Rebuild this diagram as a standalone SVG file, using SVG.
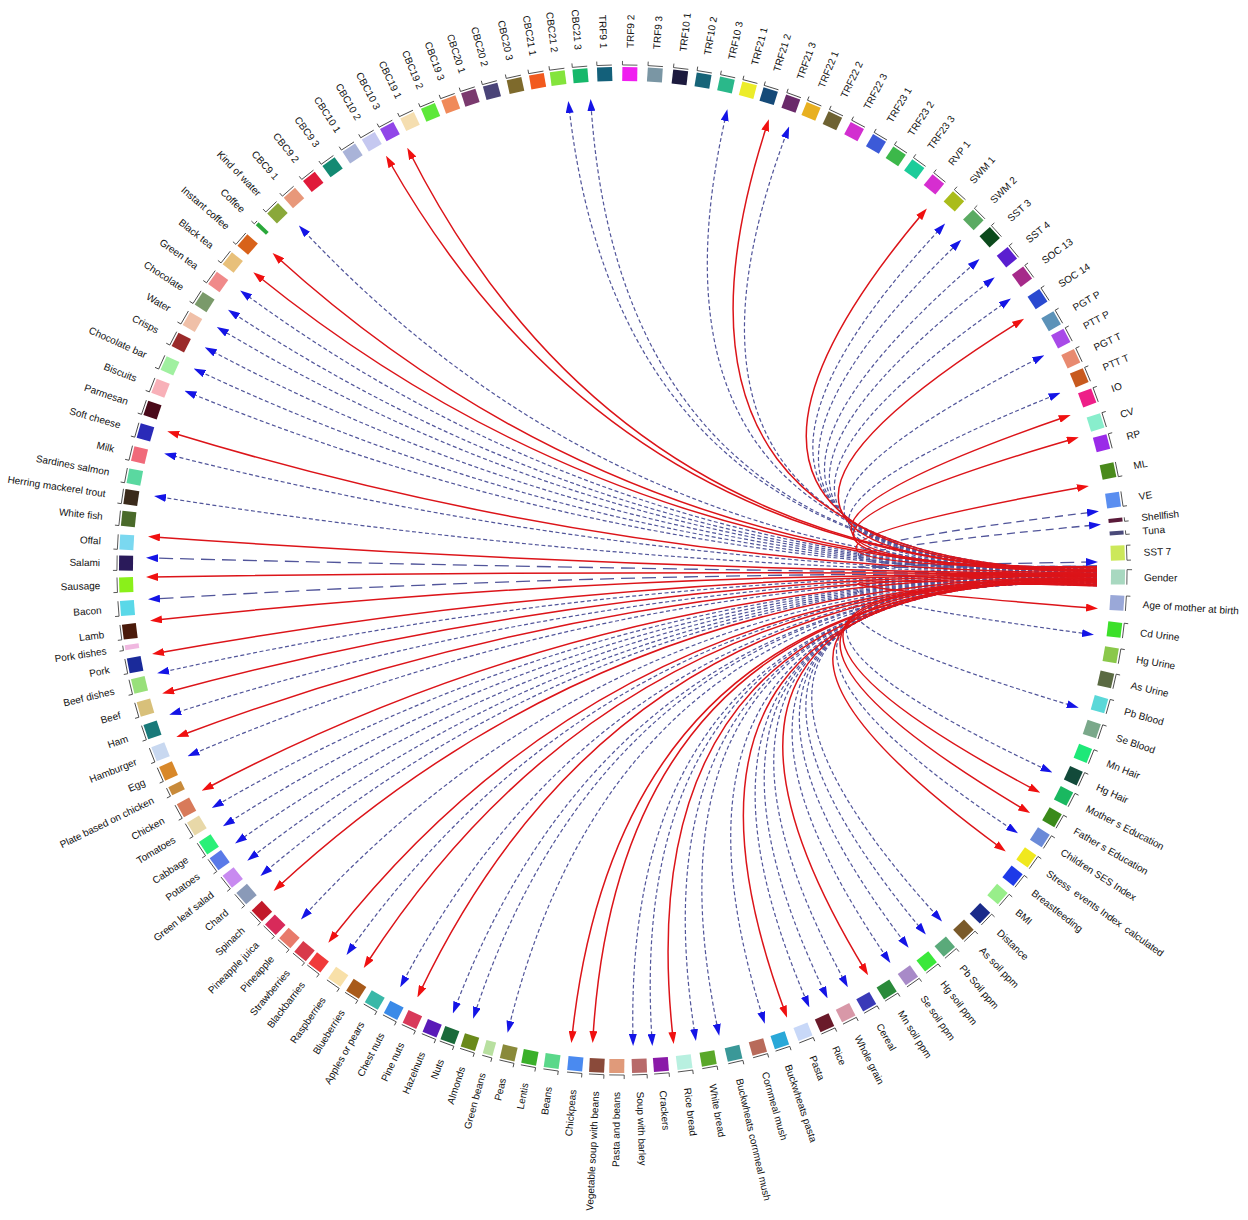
<svg xmlns="http://www.w3.org/2000/svg" width="1248" height="1220" viewBox="0 0 1248 1220">
<style>
.nd text{font-family:"Liberation Sans",Arial,sans-serif;font-size:10px;fill:#111}
.lt{text-anchor:end}
.br{fill:none;stroke:#333;stroke-width:0.8}
.re{fill:none;stroke:#dc1419;stroke-width:1.5;marker-end:url(#mr)}
.be{fill:none;stroke:#51559a;stroke-width:1.2;stroke-dasharray:4 2.5;marker-end:url(#mb)}
.bm{fill:none;stroke:#51559a;stroke-width:1.3;stroke-dasharray:8 5;marker-end:url(#mb)}
.bl{fill:none;stroke:#51559a;stroke-width:1.3;stroke-dasharray:14 7;marker-end:url(#mb)}
</style>
<defs>
<marker id="mr" viewBox="0 0 12 8" refX="6" refY="4" markerWidth="12" markerHeight="8" markerUnits="userSpaceOnUse" orient="auto"><path d="M0,0L12,4L0,8z" fill="#f01010"/></marker>
<marker id="mb" viewBox="0 0 12 8" refX="6" refY="4" markerWidth="12" markerHeight="8" markerUnits="userSpaceOnUse" orient="auto"><path d="M0,0L12,4L0,8z" fill="#1414e6"/></marker>
</defs>
<rect width="1248" height="1220" fill="#fff"/>
<g id="connectors">
<path class="be" d="M1097,570.5Q622,570 569,107"/>
<path class="be" d="M1097,570.3Q622,570 591,105"/>
<path class="be" d="M1097,570Q622,570 726,115"/>
<path class="be" d="M1097,569.6Q622,570 787,132"/>
<path class="be" d="M1097,569.1Q622,570 941,228"/>
<path class="be" d="M1097,568.9Q622,570 957,244"/>
<path class="be" d="M1097,568.6Q622,570 975,263"/>
<path class="be" d="M1097,568.4Q622,570 990,281"/>
<path class="be" d="M1097,568.1Q622,570 1006,302"/>
<path class="be" d="M1097,567.7Q622,570 1039,358"/>
<path class="be" d="M1097,567.4Q622,570 1055,395"/>
<path class="bm" d="M1097,566.5Q622,570 1093,512"/>
<path class="bm" d="M1097,566.2Q622,570 1095,525"/>
<path class="bl" d="M1097,566Q622,570 1092,562"/>
<path class="be" d="M1097,585.8Q622,570 1088,634"/>
<path class="be" d="M1097,585.5Q622,570 1073,706"/>
<path class="be" d="M1097,585.3Q622,570 1047,770"/>
<path class="be" d="M1097,584.6Q622,570 1013,830"/>
<path class="be" d="M1097,584.1Q622,570 938,917"/>
<path class="be" d="M1097,583.9Q622,570 922,930"/>
<path class="be" d="M1097,583.6Q622,570 905,943"/>
<path class="be" d="M1097,583.4Q622,570 887,958"/>
<path class="be" d="M1097,582.9Q622,570 845,982"/>
<path class="be" d="M1097,582.7Q622,570 825,993"/>
<path class="be" d="M1097,582.4Q622,570 807,1002"/>
<path class="be" d="M1097,582Q622,570 763,1018"/>
<path class="be" d="M1097,581.7Q622,570 718,1030"/>
<path class="be" d="M1097,581.5Q622,570 695,1035"/>
<path class="be" d="M1097,581Q622,570 652,1040"/>
<path class="be" d="M1097,580.8Q622,570 633,1040"/>
<path class="be" d="M1097,580Q622,570 509,1027"/>
<path class="be" d="M1097,579.8Q622,570 475,1013"/>
<path class="be" d="M1097,579.6Q622,570 455,1008"/>
<path class="be" d="M1097,579.1Q622,570 403,982"/>
<path class="be" d="M1097,578.6Q622,570 350,950"/>
<path class="be" d="M1097,578.1Q622,570 305,915"/>
<path class="be" d="M1097,577.7Q622,570 265,872"/>
<path class="be" d="M1097,577.4Q622,570 252,857"/>
<path class="be" d="M1097,577.2Q622,570 240,840"/>
<path class="be" d="M1097,577Q622,570 228,823"/>
<path class="be" d="M1097,576.7Q622,570 217,805"/>
<path class="be" d="M1097,576.2Q622,570 193,754"/>
<path class="be" d="M1097,575.8Q622,570 175,713"/>
<path class="be" d="M1097,575.3Q622,570 163,672"/>
<path class="bl" d="M1097,574.6Q622,570 154,599"/>
<path class="bl" d="M1097,574.1Q622,570 152,558"/>
<path class="be" d="M1097,573.6Q622,570 160,497"/>
<path class="be" d="M1097,573.4Q622,570 170,455"/>
<path class="be" d="M1097,572.9Q622,570 190,393"/>
<path class="be" d="M1097,572.7Q622,570 199,371"/>
<path class="be" d="M1097,572.4Q622,570 210,350"/>
<path class="be" d="M1097,572.2Q622,570 222,330"/>
<path class="be" d="M1097,572Q622,570 233,313"/>
<path class="be" d="M1097,571.7Q622,570 245,294"/>
<path class="be" d="M1097,571Q622,570 303,230"/>
<path class="re" d="M1097,570.9Q622,570 389,161"/>
<path class="re" d="M1097,570.8Q622,570 410,153"/>
<path class="re" d="M1097,569.8Q622,570 767,125"/>
<path class="re" d="M1097,569.3Q622,570 923,213"/>
<path class="re" d="M1097,567.9Q622,570 1019,322"/>
<path class="re" d="M1097,567.2Q622,570 1065,417"/>
<path class="re" d="M1097,567Q622,570 1073,439"/>
<path class="re" d="M1097,566.7Q622,570 1083,487"/>
<path class="re" d="M1097,586Q622,570 1092,608"/>
<path class="re" d="M1097,585Q622,570 1035,790"/>
<path class="re" d="M1097,584.8Q622,570 1025,810"/>
<path class="re" d="M1097,584.3Q622,570 1001,848"/>
<path class="re" d="M1097,583.1Q622,570 865,970"/>
<path class="re" d="M1097,582.2Q622,570 785,1012"/>
<path class="re" d="M1097,581.2Q622,570 673,1038"/>
<path class="re" d="M1097,580.5Q622,570 593,1037"/>
<path class="re" d="M1097,580.3Q622,570 572,1037"/>
<path class="re" d="M1097,579.3Q622,570 420,992"/>
<path class="re" d="M1097,578.9Q622,570 367,963"/>
<path class="re" d="M1097,578.4Q622,570 332,938"/>
<path class="re" d="M1097,577.9Q622,570 278,887"/>
<path class="re" d="M1097,576.5Q622,570 207,788"/>
<path class="re" d="M1097,576Q622,570 182,735"/>
<path class="re" d="M1097,575.5Q622,570 168,692"/>
<path class="re" d="M1097,575Q622,570 158,653"/>
<path class="re" d="M1097,574.8Q622,570 156,620"/>
<path class="re" d="M1097,574.3Q622,570 152,577"/>
<path class="re" d="M1097,573.9Q622,570 154,537"/>
<path class="re" d="M1097,573.1Q622,570 173,433"/>
<path class="re" d="M1097,571.5Q622,570 258,276"/>
<path class="re" d="M1097,571.2Q622,570 277,257"/>
</g>
<g id="nodes">
<g id="n-ml" class="nd" transform="rotate(348.5 622 570)"><rect x="1111" y="562.5" width="14" height="15" fill="#4a8a1c"/><path class="br" d="M1127,562.5V577.5h4"/><text x="1144" y="573.5">ML</text></g>
<g id="n-ve" class="nd" transform="rotate(351.9 622 570)"><rect x="1111" y="562.5" width="14" height="15" fill="#5a8ef0"/><path class="br" d="M1127,562.5V577.5h4"/><text x="1144" y="573.5">VE</text></g>
<g id="n-shellfish" class="nd" transform="rotate(354.24 622 570)"><rect x="1111" y="568" width="14" height="4" fill="#5a1a3a"/><path class="br" d="M1127,568V572h4"/><text x="1144" y="573.5">Shellfish</text></g>
<g id="n-tuna" class="nd" transform="rotate(355.73 622 570)"><rect x="1111" y="568" width="14" height="4" fill="#4a4a7a"/><path class="br" d="M1127,568V572h4"/><text x="1144" y="573.5">Tuna</text></g>
<g id="n-sst7" class="nd" transform="rotate(358.04 622 570)"><rect x="1111" y="562.5" width="14" height="15" fill="#cce85a"/><path class="br" d="M1131,562.5h-4V577.5h4"/><text x="1144" y="573.5">SST 7</text></g>
<g id="n-gender" class="nd" transform="rotate(0.81 622 570)"><rect x="1111" y="562.5" width="14" height="15" fill="#a8d8c0"/><path class="br" d="M1127,577.5V562.5h5"/><text x="1144" y="573.5">Gender</text></g>
<g id="n-agemother" class="nd" transform="rotate(3.8 622 570)"><rect x="1111" y="562.5" width="14" height="15" fill="#9aa8d8"/><path class="br" d="M1127,577.5V562.5h4"/><text x="1144" y="573.5">Age of mother at birth</text></g>
<g id="n-cdurine" class="nd" transform="rotate(6.9 622 570)"><rect x="1111" y="562.5" width="14" height="15" fill="#3ce02a"/><path class="br" d="M1127,577.5V562.5h4"/><text x="1144" y="573.5">Cd Urine</text></g>
<g id="n-hgurine" class="nd" transform="rotate(9.84 622 570)"><rect x="1111" y="562.5" width="14" height="15" fill="#8ac84a"/><path class="br" d="M1127,577.5V562.5h4"/><text x="1144" y="573.5">Hg Urine</text></g>
<g id="n-asurine" class="nd" transform="rotate(12.75 622 570)"><rect x="1111" y="562.5" width="14" height="15" fill="#5a6a42"/><path class="br" d="M1127,577.5V562.5h4"/><text x="1144" y="573.5">As Urine</text></g>
<g id="n-pbblood" class="nd" transform="rotate(15.7 622 570)"><rect x="1111" y="562.5" width="14" height="15" fill="#5ad8d8"/><path class="br" d="M1127,577.5V562.5h4"/><text x="1144" y="573.5">Pb Blood</text></g>
<g id="n-seblood" class="nd" transform="rotate(18.7 622 570)"><rect x="1111" y="562.5" width="14" height="15" fill="#7aa88a"/><path class="br" d="M1127,577.5V562.5h4"/><text x="1144" y="573.5">Se Blood</text></g>
<g id="n-mnhair" class="nd" transform="rotate(21.7 622 570)"><rect x="1111" y="562.5" width="14" height="15" fill="#1ee878"/><path class="br" d="M1127,577.5V562.5h4"/><text x="1144" y="573.5">Mn Hair</text></g>
<g id="n-hghair" class="nd" transform="rotate(24.5 622 570)"><rect x="1111" y="562.5" width="14" height="15" fill="#124a3a"/><path class="br" d="M1127,577.5V562.5h4"/><text x="1144" y="573.5">Hg Hair</text></g>
<g id="n-mothered" class="nd" transform="rotate(27.1 622 570)"><rect x="1111" y="562.5" width="14" height="15" fill="#1ab860"/><path class="br" d="M1127,577.5V562.5h4"/><text x="1144" y="573.5">Mother s Education</text></g>
<g id="n-fathered" class="nd" transform="rotate(29.9 622 570)"><rect x="1111" y="562.5" width="14" height="15" fill="#3a8a1a"/><path class="br" d="M1127,577.5V562.5h4"/><text x="1144" y="573.5">Father s Education</text></g>
<g id="n-ses" class="nd" transform="rotate(32.6 622 570)"><rect x="1111" y="562.5" width="14" height="15" fill="#6a8ad8"/><path class="br" d="M1127,577.5V562.5h4"/><text x="1144" y="573.5">Children SES Index</text></g>
<g id="n-stress" class="nd" transform="rotate(35.4 622 570)"><rect x="1111" y="562.5" width="14" height="15" fill="#f0e81e"/><path class="br" d="M1127,577.5V562.5h4"/><text x="1144" y="573.5" style="white-space:pre">Stress  events Index  calculated</text></g>
<g id="n-breast" class="nd" transform="rotate(38.06 622 570)"><rect x="1111" y="562.5" width="14" height="15" fill="#1e3ae8"/><path class="br" d="M1127,577.5V562.5h4"/><text x="1144" y="573.5">Breastfeeding</text></g>
<g id="n-bmi" class="nd" transform="rotate(40.8 622 570)"><rect x="1111" y="562.5" width="14" height="15" fill="#98ee8a"/><path class="br" d="M1127,577.5V562.5h4"/><text x="1144" y="573.5">BMI</text></g>
<g id="n-distance" class="nd" transform="rotate(43.8 622 570)"><rect x="1111" y="562.5" width="14" height="15" fill="#1a2a8a"/><path class="br" d="M1127,577.5V562.5h4"/><text x="1144" y="573.5">Distance</text></g>
<g id="n-assoil" class="nd" transform="rotate(46.5 622 570)"><rect x="1111" y="562.5" width="14" height="15" fill="#7a5a2a"/><path class="br" d="M1127,577.5V562.5h4"/><text x="1144" y="573.5">As soil ppm</text></g>
<g id="n-pbsoil" class="nd" transform="rotate(49.4 622 570)"><rect x="1111" y="562.5" width="14" height="15" fill="#5aaa7a"/><path class="br" d="M1127,577.5V562.5h4"/><text x="1144" y="573.5">Pb Soil ppm</text></g>
<g id="n-hgsoil" class="nd" transform="rotate(52.1 622 570)"><rect x="1111" y="562.5" width="14" height="15" fill="#3ae83a"/><path class="br" d="M1127,577.5V562.5h4"/><text x="1144" y="573.5">Hg soil ppm</text></g>
<g id="n-sesoil" class="nd" transform="rotate(54.8 622 570)"><rect x="1111" y="562.5" width="14" height="15" fill="#a88ac8"/><path class="br" d="M1127,577.5V562.5h4"/><text x="1144" y="573.5">Se soil ppm</text></g>
<g id="n-mnsoil" class="nd" transform="rotate(57.75 622 570)"><rect x="1111" y="562.5" width="14" height="15" fill="#2a8a3a"/><path class="br" d="M1127,577.5V562.5h4"/><text x="1144" y="573.5">Mn soil ppm</text></g>
<g id="n-cereal" class="nd" transform="rotate(60.5 622 570)"><rect x="1111" y="562.5" width="14" height="15" fill="#3a3ab8"/><path class="br" d="M1127,577.5V562.5h4"/><text x="1144" y="573.5">Cereal</text></g>
<g id="n-wholegrain" class="nd" transform="rotate(63.2 622 570)"><rect x="1111" y="562.5" width="14" height="15" fill="#d898a8"/><path class="br" d="M1127,577.5V562.5h4"/><text x="1144" y="573.5">Whole grain</text></g>
<g id="n-rice" class="nd" transform="rotate(65.9 622 570)"><rect x="1111" y="562.5" width="14" height="15" fill="#6a1a2a"/><path class="br" d="M1127,577.5V562.5h4"/><text x="1144" y="573.5">Rice</text></g>
<g id="n-pasta" class="nd" transform="rotate(68.6 622 570)"><rect x="1111" y="562.5" width="14" height="15" fill="#c8d8f8"/><path class="br" d="M1127,577.5V562.5h4"/><text x="1144" y="573.5">Pasta</text></g>
<g id="n-buckpasta" class="nd" transform="rotate(71.45 622 570)"><rect x="1111" y="562.5" width="14" height="15" fill="#2aa8d8"/><path class="br" d="M1127,577.5V562.5h4"/><text x="1144" y="573.5">Buckwheats pasta</text></g>
<g id="n-cornmeal" class="nd" transform="rotate(74.1 622 570)"><rect x="1111" y="562.5" width="14" height="15" fill="#b86a5a"/><path class="br" d="M1127,577.5V562.5h4"/><text x="1144" y="573.5">Cornmeal mush</text></g>
<g id="n-buckcorn" class="nd" transform="rotate(77 622 570)"><rect x="1111" y="562.5" width="14" height="15" fill="#3a9898"/><path class="br" d="M1127,577.5V562.5h4"/><text x="1144" y="573.5">Buckwheats cornmeal mush</text></g>
<g id="n-whitebread" class="nd" transform="rotate(80 622 570)"><rect x="1111" y="562.5" width="14" height="15" fill="#5aa82a"/><path class="br" d="M1127,577.5V562.5h4"/><text x="1144" y="573.5">White bread</text></g>
<g id="n-ricebread" class="nd" transform="rotate(82.8 622 570)"><rect x="1111" y="562.5" width="14" height="15" fill="#b8f0e0"/><path class="br" d="M1127,577.5V562.5h4"/><text x="1144" y="573.5">Rice bread</text></g>
<g id="n-crackers" class="nd" transform="rotate(85.5 622 570)"><rect x="1111" y="562.5" width="14" height="15" fill="#8a1aa8"/><path class="br" d="M1127,577.5V562.5h4"/><text x="1144" y="573.5">Crackers</text></g>
<g id="n-soupbarley" class="nd" transform="rotate(88 622 570)"><rect x="1111" y="562.5" width="14" height="15" fill="#b86a6a"/><path class="br" d="M1127,577.5V562.5h4"/><text x="1144" y="573.5">Soup with barley</text></g>
<g id="n-pastabeans" class="nd" transform="rotate(90.6 622 570)"><rect x="1111" y="562.5" width="14" height="15" fill="#e09a7a"/><path class="br" d="M1127,577.5V562.5h4"/><text class="lt" x="1144" y="573.5" transform="rotate(180 1144 570)">Pasta and beans</text></g>
<g id="n-vegsoup" class="nd" transform="rotate(92.9 622 570)"><rect x="1111" y="562.5" width="14" height="15" fill="#8a4a3a"/><path class="br" d="M1127,577.5V562.5h4"/><text class="lt" x="1144" y="573.5" transform="rotate(180 1144 570)">Vegetable soup with beans</text></g>
<g id="n-chickpeas" class="nd" transform="rotate(95.4 622 570)"><rect x="1111" y="562.5" width="14" height="15" fill="#4a8af0"/><path class="br" d="M1127,577.5V562.5h4"/><text class="lt" x="1144" y="573.5" transform="rotate(180 1144 570)">Chickpeas</text></g>
<g id="n-beans" class="nd" transform="rotate(98.1 622 570)"><rect x="1111" y="562.5" width="14" height="15" fill="#5ad88a"/><path class="br" d="M1127,577.5V562.5h4"/><text class="lt" x="1144" y="573.5" transform="rotate(180 1144 570)">Beans</text></g>
<g id="n-lentis" class="nd" transform="rotate(100.7 622 570)"><rect x="1111" y="562.5" width="14" height="15" fill="#3ab02a"/><path class="br" d="M1127,577.5V562.5h4"/><text class="lt" x="1144" y="573.5" transform="rotate(180 1144 570)">Lentis</text></g>
<g id="n-peas" class="nd" transform="rotate(103.2 622 570)"><rect x="1111" y="562.5" width="14" height="15" fill="#8a8a3a"/><path class="br" d="M1127,577.5V562.5h4"/><text class="lt" x="1144" y="573.5" transform="rotate(180 1144 570)">Peas</text></g>
<g id="n-greenbeans" class="nd" transform="rotate(105.5 622 570)"><rect x="1111" y="565" width="14" height="10" fill="#b8e0a0"/><path class="br" d="M1127,575V565h4"/><text class="lt" x="1144" y="573.5" transform="rotate(180 1144 570)">Green beans</text></g>
<g id="n-almonds" class="nd" transform="rotate(107.85 622 570)"><rect x="1111" y="562.5" width="14" height="15" fill="#6a8a1a"/><path class="br" d="M1127,577.5V562.5h4"/><text class="lt" x="1144" y="573.5" transform="rotate(180 1144 570)">Almonds</text></g>
<g id="n-nuts" class="nd" transform="rotate(110.3 622 570)"><rect x="1111" y="562.5" width="14" height="15" fill="#1a6a3a"/><path class="br" d="M1127,577.5V562.5h4"/><text class="lt" x="1144" y="573.5" transform="rotate(180 1144 570)">Nuts</text></g>
<g id="n-hazelnuts" class="nd" transform="rotate(112.5 622 570)"><rect x="1111" y="562.5" width="14" height="15" fill="#5a1ab8"/><path class="br" d="M1127,577.5V562.5h4"/><text class="lt" x="1144" y="573.5" transform="rotate(180 1144 570)">Hazelnuts</text></g>
<g id="n-pinenuts" class="nd" transform="rotate(115 622 570)"><rect x="1111" y="562.5" width="14" height="15" fill="#d83a5a"/><path class="br" d="M1127,577.5V562.5h4"/><text class="lt" x="1144" y="573.5" transform="rotate(180 1144 570)">Pine nuts</text></g>
<g id="n-chestnuts" class="nd" transform="rotate(117.4 622 570)"><rect x="1111" y="562.5" width="14" height="15" fill="#3a8ae8"/><path class="br" d="M1127,577.5V562.5h4"/><text class="lt" x="1144" y="573.5" transform="rotate(180 1144 570)">Chest nuts</text></g>
<g id="n-apples" class="nd" transform="rotate(119.9 622 570)"><rect x="1111" y="562.5" width="14" height="15" fill="#3ab8a8"/><path class="br" d="M1127,577.5V562.5h4"/><text class="lt" x="1144" y="573.5" transform="rotate(180 1144 570)">Apples or pears</text></g>
<g id="n-blueberries" class="nd" transform="rotate(122.4 622 570)"><rect x="1111" y="562.5" width="14" height="15" fill="#a85a1a"/><path class="br" d="M1127,577.5V562.5h4"/><text class="lt" x="1144" y="573.5" transform="rotate(180 1144 570)">Blueberries</text></g>
<g id="n-raspberries" class="nd" transform="rotate(124.9 622 570)"><rect x="1111" y="562.5" width="14" height="15" fill="#f8e0a8"/><path class="br" d="M1127,577.5V562.5h4"/><text class="lt" x="1144" y="573.5" transform="rotate(180 1144 570)">Raspberries</text></g>
<g id="n-blackbarries" class="nd" transform="rotate(127.7 622 570)"><rect x="1111" y="562.5" width="14" height="15" fill="#f03a3a"/><path class="br" d="M1127,577.5V562.5h4"/><text class="lt" x="1144" y="573.5" transform="rotate(180 1144 570)">Blackbarries</text></g>
<g id="n-strawberries" class="nd" transform="rotate(129.8 622 570)"><rect x="1111" y="562.5" width="14" height="15" fill="#d83a4a"/><path class="br" d="M1127,577.5V562.5h4"/><text class="lt" x="1144" y="573.5" transform="rotate(180 1144 570)">Strawberries</text></g>
<g id="n-pineapple" class="nd" transform="rotate(132.1 622 570)"><rect x="1111" y="562.5" width="14" height="15" fill="#e87a6a"/><path class="br" d="M1127,577.5V562.5h4"/><text class="lt" x="1144" y="573.5" transform="rotate(180 1144 570)">Pineapple</text></g>
<g id="n-pineapplejuice" class="nd" transform="rotate(134.35 622 570)"><rect x="1111" y="562.5" width="14" height="15" fill="#d82a5a"/><path class="br" d="M1127,577.5V562.5h4"/><text class="lt" x="1144" y="573.5" transform="rotate(180 1144 570)">Pineapple juica</text></g>
<g id="n-spinach" class="nd" transform="rotate(136.55 622 570)"><rect x="1111" y="562.5" width="14" height="15" fill="#c21a2a"/><path class="br" d="M1127,577.5V562.5h4"/><text class="lt" x="1144" y="573.5" transform="rotate(180 1144 570)">Spinach</text></g>
<g id="n-chard" class="nd" transform="rotate(139.2 622 570)"><rect x="1111" y="562.5" width="14" height="15" fill="#8a9ab8"/><path class="br" d="M1127,577.5V562.5h4"/><text class="lt" x="1144" y="573.5" transform="rotate(180 1144 570)">Chard</text></g>
<g id="n-greenleaf" class="nd" transform="rotate(141.7 622 570)"><rect x="1111" y="562.5" width="14" height="15" fill="#c88af0"/><path class="br" d="M1127,577.5V562.5h4"/><text class="lt" x="1144" y="573.5" transform="rotate(180 1144 570)">Green leaf salad</text></g>
<g id="n-potatoes" class="nd" transform="rotate(144.2 622 570)"><rect x="1111" y="562.5" width="14" height="15" fill="#5a7ae8"/><path class="br" d="M1127,577.5V562.5h4"/><text class="lt" x="1144" y="573.5" transform="rotate(180 1144 570)">Potatoes</text></g>
<g id="n-cabbage" class="nd" transform="rotate(146.4 622 570)"><rect x="1111" y="562.5" width="14" height="15" fill="#2af078"/><path class="br" d="M1127,577.5V562.5h4"/><text class="lt" x="1144" y="573.5" transform="rotate(180 1144 570)">Cabbage</text></g>
<g id="n-tomatoes" class="nd" transform="rotate(149 622 570)"><rect x="1111" y="562.5" width="14" height="15" fill="#e8d8a8"/><path class="br" d="M1127,577.5V562.5h4"/><text class="lt" x="1144" y="573.5" transform="rotate(180 1144 570)">Tomatoes</text></g>
<g id="n-chicken" class="nd" transform="rotate(151.4 622 570)"><rect x="1111" y="562.5" width="14" height="15" fill="#d87a5a"/><path class="br" d="M1127,577.5V562.5h4"/><text class="lt" x="1144" y="573.5" transform="rotate(180 1144 570)">Chicken</text></g>
<g id="n-platechicken" class="nd" transform="rotate(153.9 622 570)"><rect x="1111" y="565.5" width="14" height="9" fill="#c88a3a"/><path class="br" d="M1127,574.5V565.5h4"/><text class="lt" x="1144" y="573.5" transform="rotate(180 1144 570)">Plate based on chicken</text></g>
<g id="n-egg" class="nd" transform="rotate(156.1 622 570)"><rect x="1111" y="562.5" width="14" height="15" fill="#d8882a"/><path class="br" d="M1127,577.5V562.5h4"/><text class="lt" x="1144" y="573.5" transform="rotate(180 1144 570)">Egg</text></g>
<g id="n-hamburger" class="nd" transform="rotate(158.5 622 570)"><rect x="1111" y="562.5" width="14" height="15" fill="#c8d8f0"/><path class="br" d="M1127,577.5V562.5h4"/><text class="lt" x="1144" y="573.5" transform="rotate(180 1144 570)">Hamburger</text></g>
<g id="n-ham" class="nd" transform="rotate(161.2 622 570)"><rect x="1111" y="562.5" width="14" height="15" fill="#1a7a7a"/><path class="br" d="M1127,577.5V562.5h4"/><text class="lt" x="1144" y="573.5" transform="rotate(180 1144 570)">Ham</text></g>
<g id="n-beef" class="nd" transform="rotate(163.9 622 570)"><rect x="1111" y="562.5" width="14" height="15" fill="#d8c07a"/><path class="br" d="M1127,577.5V562.5h4"/><text class="lt" x="1144" y="573.5" transform="rotate(180 1144 570)">Beef</text></g>
<g id="n-beefdishes" class="nd" transform="rotate(166.6 622 570)"><rect x="1111" y="562.5" width="14" height="15" fill="#98e07a"/><path class="br" d="M1127,577.5V562.5h4"/><text class="lt" x="1144" y="573.5" transform="rotate(180 1144 570)">Beef dishes</text></g>
<g id="n-pork" class="nd" transform="rotate(169 622 570)"><rect x="1111" y="562.5" width="14" height="15" fill="#1a2a9a"/><path class="br" d="M1127,577.5V562.5h4"/><text class="lt" x="1144" y="573.5" transform="rotate(180 1144 570)">Pork</text></g>
<g id="n-porkdishes" class="nd" transform="rotate(171.1 622 570)"><rect x="1111" y="567.5" width="14" height="5" fill="#f0b8e0"/><path class="br" d="M1127,572.5V567.5h4"/><text class="lt" x="1144" y="573.5" transform="rotate(180 1144 570)">Pork dishes</text></g>
<g id="n-lamb" class="nd" transform="rotate(172.9 622 570)"><rect x="1111" y="562.5" width="14" height="15" fill="#4a1a0a"/><path class="br" d="M1127,577.5V562.5h4"/><text class="lt" x="1144" y="573.5" transform="rotate(180 1144 570)">Lamb</text></g>
<g id="n-bacon" class="nd" transform="rotate(175.6 622 570)"><rect x="1111" y="562.5" width="14" height="15" fill="#5ad8e8"/><path class="br" d="M1127,577.5V562.5h4"/><text class="lt" x="1144" y="573.5" transform="rotate(180 1144 570)">Bacon</text></g>
<g id="n-sausage" class="nd" transform="rotate(178.3 622 570)"><rect x="1111" y="562.5" width="14" height="15" fill="#8af01a"/><path class="br" d="M1127,577.5V562.5h4"/><text class="lt" x="1144" y="573.5" transform="rotate(180 1144 570)">Sausage</text></g>
<g id="n-salami" class="nd" transform="rotate(180.8 622 570)"><rect x="1111" y="562.5" width="14" height="15" fill="#2a1a5a"/><path class="br" d="M1127,577.5V562.5h4"/><text class="lt" x="1144" y="573.5" transform="rotate(180 1144 570)">Salami</text></g>
<g id="n-offal" class="nd" transform="rotate(183.2 622 570)"><rect x="1111" y="562.5" width="14" height="15" fill="#7ad8f0"/><path class="br" d="M1127,577.5V562.5h4"/><text class="lt" x="1144" y="573.5" transform="rotate(180 1144 570)">Offal</text></g>
<g id="n-whitefish" class="nd" transform="rotate(185.9 622 570)"><rect x="1111" y="562.5" width="14" height="15" fill="#4a6a2a"/><path class="br" d="M1127,577.5V562.5h4"/><text class="lt" x="1144" y="573.5" transform="rotate(180 1144 570)">White fish</text></g>
<g id="n-herring" class="nd" transform="rotate(188.4 622 570)"><rect x="1111" y="562.5" width="14" height="15" fill="#3a2a1a"/><path class="br" d="M1127,577.5V562.5h4"/><text class="lt" x="1144" y="573.5" transform="rotate(180 1144 570)">Herring mackerel trout</text></g>
<g id="n-sardines" class="nd" transform="rotate(190.8 622 570)"><rect x="1111" y="562.5" width="14" height="15" fill="#5ad8a0"/><path class="br" d="M1127,577.5V562.5h4"/><text class="lt" x="1144" y="573.5" transform="rotate(180 1144 570)">Sardines salmon</text></g>
<g id="n-milk" class="nd" transform="rotate(193.4 622 570)"><rect x="1111" y="562.5" width="14" height="15" fill="#f06a7a"/><path class="br" d="M1127,577.5V562.5h4"/><text class="lt" x="1144" y="573.5" transform="rotate(180 1144 570)">Milk</text></g>
<g id="n-softcheese" class="nd" transform="rotate(196.1 622 570)"><rect x="1111" y="562.5" width="14" height="15" fill="#2a2ab8"/><path class="br" d="M1127,577.5V562.5h4"/><text class="lt" x="1144" y="573.5" transform="rotate(180 1144 570)">Soft cheese</text></g>
<g id="n-parmesan" class="nd" transform="rotate(198.8 622 570)"><rect x="1111" y="562.5" width="14" height="15" fill="#4a0a1a"/><path class="br" d="M1127,577.5V562.5h4"/><text class="lt" x="1144" y="573.5" transform="rotate(180 1144 570)">Parmesan</text></g>
<g id="n-biscuits" class="nd" transform="rotate(201.5 622 570)"><rect x="1111" y="562.5" width="14" height="15" fill="#f8b0b8"/><path class="br" d="M1127,577.5V562.5h4"/><text class="lt" x="1144" y="573.5" transform="rotate(180 1144 570)">Biscuits</text></g>
<g id="n-chocbar" class="nd" transform="rotate(204.3 622 570)"><rect x="1111" y="562.5" width="14" height="15" fill="#a0f0a0"/><path class="br" d="M1127,577.5V562.5h4"/><text class="lt" x="1144" y="573.5" transform="rotate(180 1144 570)">Chocolate bar</text></g>
<g id="n-crisps" class="nd" transform="rotate(207.3 622 570)"><rect x="1111" y="562.5" width="14" height="15" fill="#9a2a2a"/><path class="br" d="M1127,577.5V562.5h4"/><text class="lt" x="1144" y="573.5" transform="rotate(180 1144 570)">Crisps</text></g>
<g id="n-water" class="nd" transform="rotate(210 622 570)"><rect x="1111" y="562.5" width="14" height="15" fill="#f0c0a8"/><path class="br" d="M1127,577.5V562.5h4"/><text class="lt" x="1144" y="573.5" transform="rotate(180 1144 570)">Water</text></g>
<g id="n-chocolate" class="nd" transform="rotate(212.7 622 570)"><rect x="1111" y="562.5" width="14" height="15" fill="#7a9a6a"/><path class="br" d="M1127,577.5V562.5h4"/><text class="lt" x="1144" y="573.5" transform="rotate(180 1144 570)">Chocolate</text></g>
<g id="n-greentea" class="nd" transform="rotate(215.5 622 570)"><rect x="1111" y="562.5" width="14" height="15" fill="#f08a8a"/><path class="br" d="M1127,577.5V562.5h4"/><text class="lt" x="1144" y="573.5" transform="rotate(180 1144 570)">Green tea</text></g>
<g id="n-blacktea" class="nd" transform="rotate(218.3 622 570)"><rect x="1111" y="562.5" width="14" height="15" fill="#e8c07a"/><path class="br" d="M1127,577.5V562.5h4"/><text class="lt" x="1144" y="573.5" transform="rotate(180 1144 570)">Black tea</text></g>
<g id="n-instantcoffee" class="nd" transform="rotate(221 622 570)"><rect x="1111" y="562.5" width="14" height="15" fill="#d8621a"/><path class="br" d="M1127,577.5V562.5h4"/><text class="lt" x="1144" y="573.5" transform="rotate(180 1144 570)">Instant coffee</text></g>
<g id="n-coffee" class="nd" transform="rotate(223.5 622 570)"><rect x="1111" y="568" width="14" height="4" fill="#2aa83a"/><path class="br" d="M1127,572V568h4"/><text class="lt" x="1144" y="573.5" transform="rotate(180 1144 570)">Coffee</text></g>
<g id="n-kindwater" class="nd" transform="rotate(226 622 570)"><rect x="1111" y="562.5" width="14" height="15" fill="#8aa83a"/><path class="br" d="M1127,577.5V562.5h4"/><text class="lt" x="1144" y="573.5" transform="rotate(180 1144 570)">Kind of water</text></g>
<g id="n-cbc91" class="nd" transform="rotate(228.6 622 570)"><rect x="1111" y="562.5" width="14" height="15" fill="#e8987a"/><path class="br" d="M1127,577.5V562.5h4"/><text class="lt" x="1144" y="573.5" transform="rotate(180 1144 570)">CBC9 1</text></g>
<g id="n-cbc92" class="nd" transform="rotate(231.5 622 570)"><rect x="1111" y="562.5" width="14" height="15" fill="#e01a3a"/><path class="br" d="M1127,577.5V562.5h4"/><text class="lt" x="1144" y="573.5" transform="rotate(180 1144 570)">CBC9 2</text></g>
<g id="n-cbc93" class="nd" transform="rotate(234.3 622 570)"><rect x="1111" y="562.5" width="14" height="15" fill="#138a73"/><path class="br" d="M1127,577.5V562.5h4"/><text class="lt" x="1144" y="573.5" transform="rotate(180 1144 570)">CBC9 3</text></g>
<g id="n-cbc101" class="nd" transform="rotate(237.1 622 570)"><rect x="1111" y="562.5" width="14" height="15" fill="#a9b3d8"/><path class="br" d="M1127,577.5V562.5h4"/><text class="lt" x="1144" y="573.5" transform="rotate(180 1144 570)">CBC10 1</text></g>
<g id="n-cbc102" class="nd" transform="rotate(239.7 622 570)"><rect x="1111" y="562.5" width="14" height="15" fill="#c5c8f0"/><path class="br" d="M1127,577.5V562.5h4"/><text class="lt" x="1144" y="573.5" transform="rotate(180 1144 570)">CBC10 2</text></g>
<g id="n-cbc103" class="nd" transform="rotate(242.1 622 570)"><rect x="1111" y="562.5" width="14" height="15" fill="#9146e8"/><path class="br" d="M1127,577.5V562.5h4"/><text class="lt" x="1144" y="573.5" transform="rotate(180 1144 570)">CBC10 3</text></g>
<g id="n-cbc191" class="nd" transform="rotate(244.7 622 570)"><rect x="1111" y="562.5" width="14" height="15" fill="#f5deb0"/><path class="br" d="M1127,577.5V562.5h4"/><text class="lt" x="1144" y="573.5" transform="rotate(180 1144 570)">CBC19 1</text></g>
<g id="n-cbc192" class="nd" transform="rotate(247.3 622 570)"><rect x="1111" y="562.5" width="14" height="15" fill="#5de83a"/><path class="br" d="M1127,577.5V562.5h4"/><text class="lt" x="1144" y="573.5" transform="rotate(180 1144 570)">CBC19 2</text></g>
<g id="n-cbc193" class="nd" transform="rotate(249.8 622 570)"><rect x="1111" y="562.5" width="14" height="15" fill="#f08a5a"/><path class="br" d="M1127,577.5V562.5h4"/><text class="lt" x="1144" y="573.5" transform="rotate(180 1144 570)">CBC19 3</text></g>
<g id="n-cbc201" class="nd" transform="rotate(252.2 622 570)"><rect x="1111" y="562.5" width="14" height="15" fill="#7a3a6e"/><path class="br" d="M1127,577.5V562.5h4"/><text class="lt" x="1144" y="573.5" transform="rotate(180 1144 570)">CBC20 1</text></g>
<g id="n-cbc202" class="nd" transform="rotate(254.8 622 570)"><rect x="1111" y="562.5" width="14" height="15" fill="#4a4478"/><path class="br" d="M1127,577.5V562.5h4"/><text class="lt" x="1144" y="573.5" transform="rotate(180 1144 570)">CBC20 2</text></g>
<g id="n-cbc203" class="nd" transform="rotate(257.6 622 570)"><rect x="1111" y="562.5" width="14" height="15" fill="#7e6a2c"/><path class="br" d="M1127,577.5V562.5h4"/><text class="lt" x="1144" y="573.5" transform="rotate(180 1144 570)">CBC20 3</text></g>
<g id="n-cbc211" class="nd" transform="rotate(260.2 622 570)"><rect x="1111" y="562.5" width="14" height="15" fill="#f25a1e"/><path class="br" d="M1127,577.5V562.5h4"/><text class="lt" x="1144" y="573.5" transform="rotate(180 1144 570)">CBC21 1</text></g>
<g id="n-cbc212" class="nd" transform="rotate(262.6 622 570)"><rect x="1111" y="562.5" width="14" height="15" fill="#84e43c"/><path class="br" d="M1127,577.5V562.5h4"/><text class="lt" x="1144" y="573.5" transform="rotate(180 1144 570)">CBC21 2</text></g>
<g id="n-cbc213" class="nd" transform="rotate(265.2 622 570)"><rect x="1111" y="562.5" width="14" height="15" fill="#16b86a"/><path class="br" d="M1127,577.5V562.5h4"/><text class="lt" x="1144" y="573.5" transform="rotate(180 1144 570)">CBC21 3</text></g>
<g id="n-trf91" class="nd" transform="rotate(268 622 570)"><rect x="1111" y="562.5" width="14" height="15" fill="#13607a"/><path class="br" d="M1127,577.5V562.5h4"/><text class="lt" x="1144" y="573.5" transform="rotate(180 1144 570)">TRF9 1</text></g>
<g id="n-trf92" class="nd" transform="rotate(270.9 622 570)"><rect x="1111" y="562.5" width="14" height="15" fill="#f01ef0"/><path class="br" d="M1127,577.5V562.5h4"/><text x="1144" y="573.5">TRF9 2</text></g>
<g id="n-trf93" class="nd" transform="rotate(273.8 622 570)"><rect x="1111" y="562.5" width="14" height="15" fill="#7a96a4"/><path class="br" d="M1127,577.5V562.5h4"/><text x="1144" y="573.5">TRF9 3</text></g>
<g id="n-trf101" class="nd" transform="rotate(276.7 622 570)"><rect x="1111" y="562.5" width="14" height="15" fill="#1c1a3e"/><path class="br" d="M1127,577.5V562.5h4"/><text x="1144" y="573.5">TRF10 1</text></g>
<g id="n-trf102" class="nd" transform="rotate(279.4 622 570)"><rect x="1111" y="562.5" width="14" height="15" fill="#176478"/><path class="br" d="M1127,577.5V562.5h4"/><text x="1144" y="573.5">TRF10 2</text></g>
<g id="n-trf103" class="nd" transform="rotate(282.1 622 570)"><rect x="1111" y="562.5" width="14" height="15" fill="#2ab88a"/><path class="br" d="M1127,577.5V562.5h4"/><text x="1144" y="573.5">TRF10 3</text></g>
<g id="n-trf211" class="nd" transform="rotate(284.7 622 570)"><rect x="1111" y="562.5" width="14" height="15" fill="#ecec2a"/><path class="br" d="M1127,577.5V562.5h4"/><text x="1144" y="573.5">TRF21 1</text></g>
<g id="n-trf212" class="nd" transform="rotate(287.2 622 570)"><rect x="1111" y="562.5" width="14" height="15" fill="#154a78"/><path class="br" d="M1127,577.5V562.5h4"/><text x="1144" y="573.5">TRF21 2</text></g>
<g id="n-trf213" class="nd" transform="rotate(289.9 622 570)"><rect x="1111" y="562.5" width="14" height="15" fill="#6a2a6a"/><path class="br" d="M1127,577.5V562.5h4"/><text x="1144" y="573.5">TRF21 3</text></g>
<g id="n-trf221" class="nd" transform="rotate(292.4 622 570)"><rect x="1111" y="562.5" width="14" height="15" fill="#e8b020"/><path class="br" d="M1127,577.5V562.5h4"/><text x="1144" y="573.5">TRF22 1</text></g>
<g id="n-trf222" class="nd" transform="rotate(295.1 622 570)"><rect x="1111" y="562.5" width="14" height="15" fill="#6e6232"/><path class="br" d="M1127,577.5V562.5h4"/><text x="1144" y="573.5">TRF22 2</text></g>
<g id="n-trf223" class="nd" transform="rotate(297.9 622 570)"><rect x="1111" y="562.5" width="14" height="15" fill="#d22ed0"/><path class="br" d="M1127,577.5V562.5h4"/><text x="1144" y="573.5">TRF22 3</text></g>
<g id="n-trf231" class="nd" transform="rotate(300.8 622 570)"><rect x="1111" y="562.5" width="14" height="15" fill="#3c5ad8"/><path class="br" d="M1127,577.5V562.5h4"/><text x="1144" y="573.5">TRF23 1</text></g>
<g id="n-trf232" class="nd" transform="rotate(303.5 622 570)"><rect x="1111" y="562.5" width="14" height="15" fill="#3cb84a"/><path class="br" d="M1127,577.5V562.5h4"/><text x="1144" y="573.5">TRF23 2</text></g>
<g id="n-trf233" class="nd" transform="rotate(306.1 622 570)"><rect x="1111" y="562.5" width="14" height="15" fill="#1ccc9a"/><path class="br" d="M1127,577.5V562.5h4"/><text x="1144" y="573.5">TRF23 3</text></g>
<g id="n-rvp1" class="nd" transform="rotate(308.97 622 570)"><rect x="1111" y="562.5" width="14" height="15" fill="#d62ed0"/><path class="br" d="M1127,577.5V562.5h4"/><text x="1144" y="573.5">RVP 1</text></g>
<g id="n-swm1" class="nd" transform="rotate(312 622 570)"><rect x="1111" y="562.5" width="14" height="15" fill="#aabc1c"/><path class="br" d="M1127,577.5V562.5h4"/><text x="1144" y="573.5">SWM 1</text></g>
<g id="n-swm2" class="nd" transform="rotate(315.1 622 570)"><rect x="1111" y="562.5" width="14" height="15" fill="#5aaa62"/><path class="br" d="M1127,577.5V562.5h4"/><text x="1144" y="573.5">SWM 2</text></g>
<g id="n-sst3" class="nd" transform="rotate(317.85 622 570)"><rect x="1111" y="562.5" width="14" height="15" fill="#0c4a1c"/><path class="br" d="M1127,577.5V562.5h4"/><text x="1144" y="573.5">SST 3</text></g>
<g id="n-sst4" class="nd" transform="rotate(320.9 622 570)"><rect x="1111" y="562.5" width="14" height="15" fill="#5a1ed0"/><path class="br" d="M1127,577.5V562.5h4"/><text x="1144" y="573.5">SST 4</text></g>
<g id="n-soc13" class="nd" transform="rotate(323.75 622 570)"><rect x="1111" y="562.5" width="14" height="15" fill="#a62a8a"/><path class="br" d="M1127,577.5V562.5h4"/><text x="1144" y="573.5">SOC 13</text></g>
<g id="n-soc14" class="nd" transform="rotate(326.9 622 570)"><rect x="1111" y="562.5" width="14" height="15" fill="#2a4ad0"/><path class="br" d="M1127,577.5V562.5h4"/><text x="1144" y="573.5">SOC 14</text></g>
<g id="n-pgtp" class="nd" transform="rotate(329.9 622 570)"><rect x="1111" y="562.5" width="14" height="15" fill="#5c92b8"/><path class="br" d="M1127,577.5V562.5h4"/><text x="1144" y="573.5">PGT P</text></g>
<g id="n-pttp" class="nd" transform="rotate(332.2 622 570)"><rect x="1111" y="562.5" width="14" height="15" fill="#a84ae8"/><path class="br" d="M1127,577.5V562.5h4"/><text x="1144" y="573.5">PTT P</text></g>
<g id="n-pgtt" class="nd" transform="rotate(334.8 622 570)"><rect x="1111" y="562.5" width="14" height="15" fill="#e88a70"/><path class="br" d="M1127,577.5V562.5h4"/><text x="1144" y="573.5">PGT T</text></g>
<g id="n-pttt" class="nd" transform="rotate(337.2 622 570)"><rect x="1111" y="562.5" width="14" height="15" fill="#c85a1e"/><path class="br" d="M1127,577.5V562.5h4"/><text x="1144" y="573.5">PTT T</text></g>
<g id="n-io" class="nd" transform="rotate(339.7 622 570)"><rect x="1111" y="562.5" width="14" height="15" fill="#ee1e88"/><path class="br" d="M1127,577.5V562.5h4"/><text x="1144" y="573.5">IO</text></g>
<g id="n-cv" class="nd" transform="rotate(342.7 622 570)"><rect x="1111" y="562.5" width="14" height="15" fill="#88eecc"/><path class="br" d="M1127,577.5V562.5h4"/><text x="1144" y="573.5">CV</text></g>
<g id="n-rp" class="nd" transform="rotate(345.2 622 570)"><rect x="1111" y="562.5" width="14" height="15" fill="#9a2ae8"/><path class="br" d="M1127,577.5V562.5h4"/><text x="1144" y="573.5">RP</text></g>
</g>
</svg>
